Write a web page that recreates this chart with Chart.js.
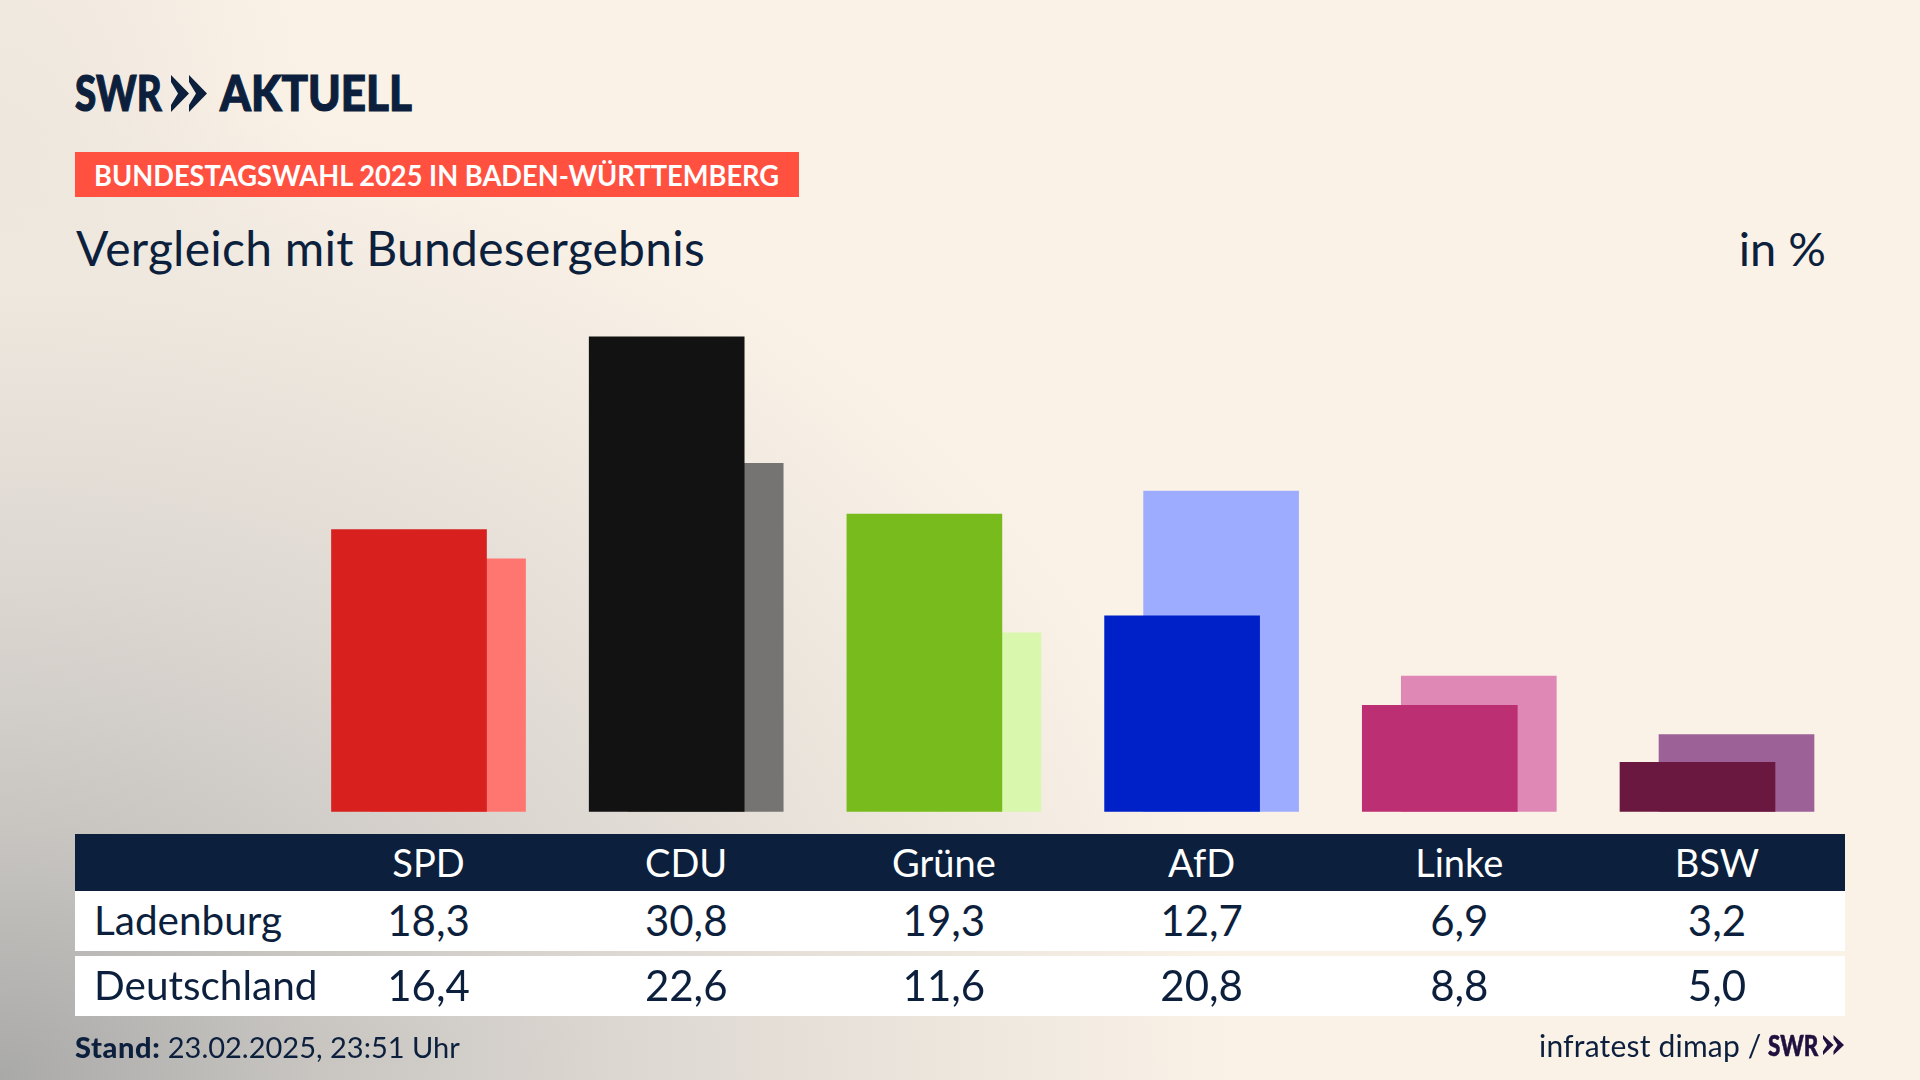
<!DOCTYPE html>
<html lang="de">
<head>
<meta charset="utf-8">
<title>Vergleich mit Bundesergebnis</title>
<script src="https://cdn.jsdelivr.net/npm/chart.js@4"></script>
<style>
  html, body { margin: 0; padding: 0; }
  body {
    width: 1920px; height: 1080px; overflow: hidden; position: relative;
    color: #0c1f3d; font-family: Lato, sans-serif;
    background:
      radial-gradient(ellipse 1250px 1000px at 0 100%, #a9a9a8 0%, #c8c5c1 25%, #dcd7d1 50%, #efe8df 80%, rgba(251,242,231,0) 100%),
      radial-gradient(ellipse 330px 800px at 0 30%, rgba(228,222,214,0.75) 0%, rgba(251,242,231,0) 100%),
      #fbf2e7;
  }
  canvas#chart { position: absolute; left: 0; top: 0; }
  .txt { position: absolute; white-space: nowrap; transform-origin: left center; }
  #logo, #logo2 { top: 64px; font-size: 50px; font-weight: 900; line-height: 56px; -webkit-text-stroke: 1.2px #0c1f3d; }
  #logo { left: 75px; transform: scaleX(0.77); }
  #logo2 { left: 220px; transform: scaleX(0.88); }
  #tag { left: 75px; top: 152px; width: 724px; height: 45px; background: #ff5040; }
  #tag span {
    display: inline-block; margin-left: 19px; transform: scaleX(0.94); transform-origin: left center;
    color: #fff; font-size: 29px; font-weight: 700; line-height: 45px;
  }
  #title { left: 76px; top: 220px; font-size: 48px; letter-spacing: 0.25px; line-height: 56px; }
  #unit { right: 94px; top: 220px; font-size: 47px; line-height: 56px; }
  .band { position: absolute; left: 75px; width: 1770px; }
  #head { top: 834px; height: 57px; background: #0c1f3d; }
  #row1 { top: 891px; height: 60px; background: #fff; }
  #row2 { top: 956px; height: 60px; background: #fff; }
  .cell { position: absolute; top: 0; transform: translateX(-50%); font-size: 42px; line-height: 59px; white-space: nowrap; }
  #head .cell { color: #fff; font-size: 38px; line-height: 56px; }
  .name { position: absolute; left: 19px; top: 0; font-size: 40.5px; line-height: 58px; }
  #stand { left: 75px; top: 1030px; font-size: 29px; line-height: 34px; }
  #stand b { font-weight: 900; letter-spacing: 0.6px; }
  #source { left: 1539px; top: 1028px; font-size: 30px; letter-spacing: 0.2px; line-height: 34px; }
  #swr2 { left: 1768px; top: 1028px; font-size: 29px; font-weight: 900; line-height: 34px; color: #20103f; -webkit-text-stroke: 0.6px #20103f; transform: scaleX(0.77); }
  svg { position: absolute; }
</style>
</head>
<body>
<div class="txt" id="logo">SWR</div>
<svg style="left:171px;top:75px" width="36" height="37" viewBox="0 0 36 37"><path fill="#0c1f3d" d="M0 0 L18 18.5 L0 37 L0 30 L7 18.5 L0 7 Z M18 0 L36 18.5 L18 37 L18 30 L25 18.5 L18 7 Z"/></svg>
<div class="txt" id="logo2">AKTUELL</div>
<div class="txt" id="tag"><span>BUNDESTAGSWAHL 2025 IN BADEN-WÜRTTEMBERG</span></div>
<div class="txt" id="title">Vergleich mit Bundesergebnis</div>
<div class="txt" id="unit">in %</div>

<canvas id="chart" width="1920" height="1080"></canvas>

<div class="band" id="head"></div>
<div class="band" id="row1"></div>
<div class="band" id="row2"></div>

<div class="txt" id="stand"><b>Stand:</b> 23.02.2025, 23:51 Uhr</div>
<div class="txt" id="source">infratest dimap /</div>
<div class="txt" id="swr2">SWR</div>
<svg style="left:1823px;top:1035px" width="21" height="20" viewBox="0 0 36 37" preserveAspectRatio="none"><path fill="#20103f" d="M0 0 L18 18.5 L0 37 L0 30 L7 18.5 L0 7 Z M18 0 L36 18.5 L18 37 L18 30 L25 18.5 L18 7 Z"/></svg>

<script>
const categories = ["SPD", "CDU", "Grüne", "AfD", "Linke", "BSW"];
const ladenburg = [18.3, 30.8, 19.3, 12.7, 6.9, 3.2];
const deutschland = [16.4, 22.6, 11.6, 20.8, 8.8, 5.0];
const seriesNames = ["Ladenburg", "Deutschland"];
const ladenburgColors = ["#d8201e", "#121212", "#78bb1c", "#0020c8", "#bc2f73", "#6a183f"];
const deutschlandColors = ["#ff7570", "#757472", "#d9f7ad", "#9eacff", "#df87b5", "#9c6196"];

// the two bars of a party overlap, so they sit left and right of the column centre
const dodge = 0.0757;
const barWidth = 155;

const toPoints = (values, shift) => values.map((v, i) => ({ x: i + shift, y: v }));

const chart = new Chart(document.getElementById("chart"), {
  type: "bar",
  data: {
    datasets: [
      {
        label: seriesNames[0],
        data: toPoints(ladenburg, -dodge),
        backgroundColor: ladenburgColors,
      },
      {
        label: seriesNames[1],
        data: toPoints(deutschland, dodge),
        backgroundColor: deutschlandColors,
      },
    ],
  },
  options: {
    responsive: false,
    animation: false,
    grouped: false,
    barThickness: barWidth,
    borderWidth: 0,
    layout: { padding: { left: 299.65, right: 74.15, top: 272, bottom: 268.3 } },
    plugins: { legend: { display: false }, tooltip: { enabled: false } },
    scales: {
      x: { type: "linear", display: false, min: -0.5, max: 5.5, offset: false },
      y: { display: false, min: 0, max: 35 },
    },
  },
});

// table columns follow the chart's own x scale
const fmt = (v) => v.toFixed(1).replace(".", ",");
const addCell = (rowId, text, i) => {
  const el = document.createElement("div");
  el.className = "cell";
  el.textContent = text;
  el.style.left = chart.scales.x.getPixelForValue(i) - 75 + "px";
  document.getElementById(rowId).appendChild(el);
};
const addName = (rowId, text) => {
  const el = document.createElement("div");
  el.className = "name";
  el.textContent = text;
  document.getElementById(rowId).appendChild(el);
};
addName("row1", seriesNames[0]);
addName("row2", seriesNames[1]);
categories.forEach((c, i) => {
  addCell("head", c, i);
  addCell("row1", fmt(ladenburg[i]), i);
  addCell("row2", fmt(deutschland[i]), i);
});
</script>
</body>
</html>
